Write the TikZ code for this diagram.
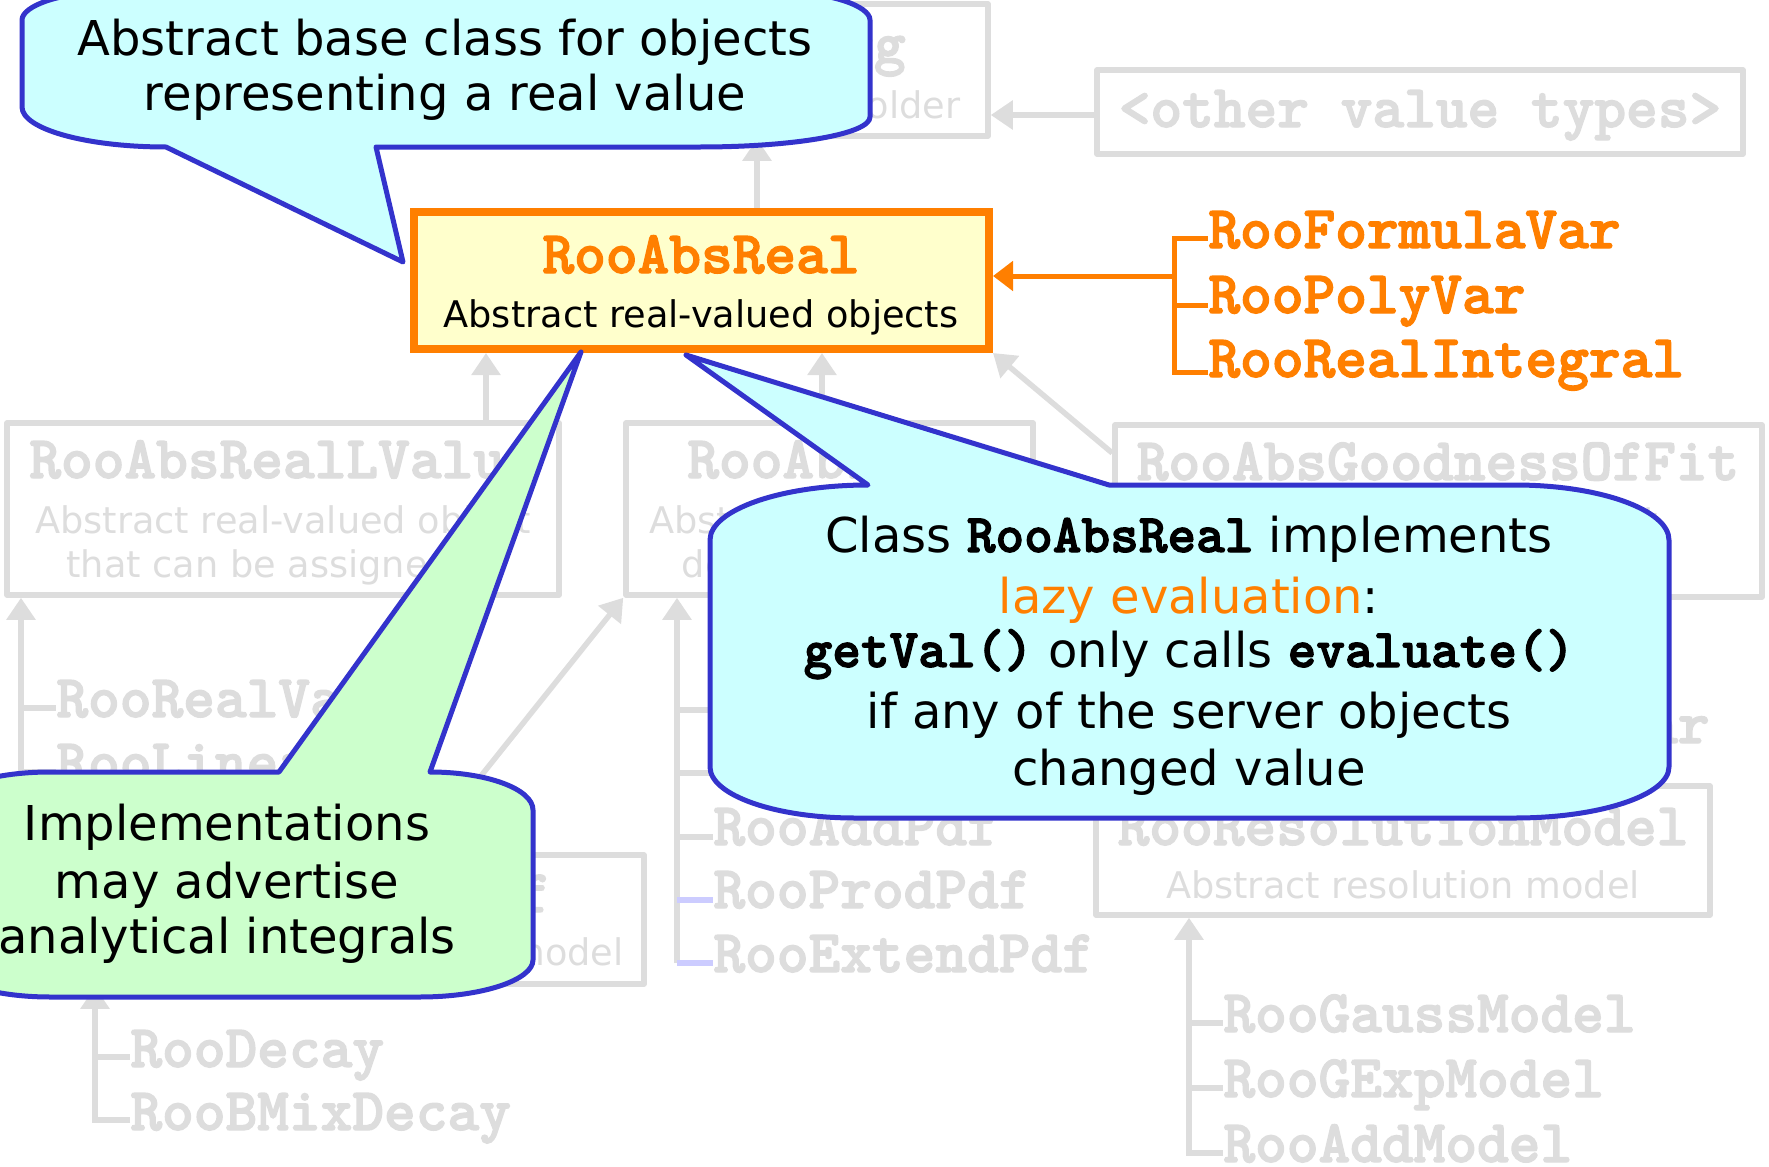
\documentclass[tikz,border=0pt]{standalone}
\usepackage{fontspec}
\setmainfont{DejaVu Sans}
\newfontfamily\codefont{lmmonolt10-bold.otf}[FakeBold=2.2]
\usetikzlibrary{arrows.meta,fit}

\definecolor{rooorange}{HTML}{FF7F00}
\definecolor{boxyellow}{HTML}{FFFFCC}
\definecolor{notecyan}{HTML}{CCFFFF}
\definecolor{notegreen}{HTML}{CCFFCC}
\definecolor{noteblue}{HTML}{3333CC}
\definecolor{fade}{HTML}{DDDDDD}
\definecolor{fadeblue}{HTML}{CCCCFF}

% bold typewriter for class and method names inside the notes
\newcommand{\cfn}[1]{{\codefont\fontsize{27.3}{30}\selectfont #1}}

\tikzset{
  fadebox/.style={draw=fade, line width=2.75pt, inner sep=0pt, line join=round},
  fadeline/.style={draw=fade, line width=2.75pt},
  inh/.style={fadeline, -{Triangle[length=11pt,width=14pt]}},
  orline/.style={draw=rooorange, line width=2.5pt},
  classname/.style={font=\codefont\fontsize{30.2}{34}\selectfont, inner sep=0pt},
  fadename/.style={classname, text=fade},
  descr/.style={font=\fontsize{18.35}{22}\selectfont, inner sep=0pt},
  fadedescr/.style={descr, text=fade},
  note/.style={draw=noteblue, line width=2.5pt, line join=round},
  notetext/.style={font=\fontsize{24}{28}\selectfont, inner sep=0pt, anchor=base},
}

\begin{document}
\begin{tikzpicture}[x=0.5pt, y=-0.5pt]
\useasboundingbox (0,0) rectangle (1769,1167);

% ---------- faded class hierarchy ----------
\node[fadebox, fit={(538,4) (988,136)}] (absarg) {};
\node[fadename, anchor=base] (absargT) at (763,63) {RooAbsArg};
\node[fadedescr, anchor=base] (absargD) at (763,118) {Abstract value holder};

\node[fadebox, fit={(1097,70) (1743,154)}] (other) {};
\node[fadename, anchor=base] (otherT) at (1420,127) {<other value types>};
\draw[inh] (other.west |- 0,115) -- (absarg.east |- 0,115);

\node[fadebox, fit={(7,423) (559,595)}] (lvalue) {};
\node[fadename, anchor=base] (lvalueT) at (283,478) {RooAbsRealLValue};
\node[fadedescr, anchor=base] (lvalueD1) at (283,533) {Abstract real-valued object};
\node[fadedescr, anchor=base] (lvalueD2) at (283,577) {that can be assigned to};

\node[fadebox, fit={(626,423) (1033,595)}] (abspdf) {};
\node[fadename, anchor=base] (abspdfT) at (830,478) {RooAbsPdf};
\node[fadedescr, anchor=base] (abspdfD1) at (830,533) {Abstract probability};
\node[fadedescr, anchor=base] (abspdfD2) at (830,577) {density function};

\node[fadebox, fit={(1115,425) (1762,597)}] (gof) {};
\node[fadename, anchor=base] (gofT) at (1438,480) {RooAbsGoodnessOfFit};
\node[fadedescr, anchor=base] (gofD1) at (1438,533) {Abstract goodness-of-fit};
\node[fadedescr, anchor=base] (gofD2) at (1438,577) {test statistic};
\node[fadename, anchor=base east] (chi2) at (1710,743) {RooChi2Var};

\node[fadebox, fit={(-40,855) (644,984)}] (convpdf) {};
\node[fadename, anchor=base east] (convpdfT) at (551,912) {RooConvolutedPdf};
\node[fadedescr, anchor=base east] (convpdfD) at (624,965) {Abstract convoluted physics model};

\node[fadebox, fit={(1096,786) (1710,915)}] (resmodel) {};
\node[fadename, anchor=base] (resmodelT) at (1403,845) {RooResolutionModel};
\node[fadedescr, anchor=base] (resmodelD) at (1403,898) {Abstract resolution model};

% children of RooAbsRealLValue
\node[fadename, anchor=base west] (realvar) at (56,717) {RooRealVar};
\node[fadename, anchor=base west] (linvar) at (56,781) {RooLinearVar};
\draw[inh] (linvar.west |- 0,772) -| (lvalue.south -| 21,0);
\draw[fadeline] (21,708) -- (realvar.west |- 0,708);

% children of RooAbsPdf
\node[fadename, anchor=base west] (addpdf) at (713,845) {RooAddPdf};
\node[fadename, anchor=base west] (prodpdf) at (713,908) {RooProdPdf};
\node[fadename, anchor=base west] (extpdf) at (713,972) {RooExtendPdf};
\coordinate (gaussTick) at (713,710);
\coordinate (argusTick) at (713,773);
\draw[inh] (677,963) -- (abspdf.south -| 677,0);
\draw[fadeline] (677,710) -- (gaussTick);
\draw[fadeline] (677,773) -- (argusTick);
\draw[fadeline] (677,837) -- (addpdf.west |- 0,837);
\draw[draw=fadeblue, line width=2.75pt] (677,900) -- (prodpdf.west |- 0,900);
\draw[draw=fadeblue, line width=2.75pt] (677,963) -- (extpdf.west |- 0,963);

% children of RooConvolutedPdf
\node[fadename, anchor=base west] (decay) at (130,1067) {RooDecay};
\node[fadename, anchor=base west] (bmix) at (130,1130) {RooBMixDecay};
\draw[inh] (bmix.west |- 0,1120) -| (convpdf.south -| 95,0);
\draw[fadeline] (95,1057) -- (decay.west |- 0,1057);

% children of RooResolutionModel
\node[fadename, anchor=base west] (gaussmodel) at (1223,1032) {RooGaussModel};
\node[fadename, anchor=base west] (gexpmodel) at (1223,1097) {RooGExpModel};
\node[fadename, anchor=base west] (addmodel) at (1223,1162) {RooAddModel};
\draw[inh] (addmodel.west |- 0,1153) -| (resmodel.south -| 1189,0);
\draw[fadeline] (1189,1023) -- (gaussmodel.west |- 0,1023);
\draw[fadeline] (1189,1088) -- (gexpmodel.west |- 0,1088);

% ---------- highlighted class ----------
\node[fit={(414,212) (989,349)}, draw=rooorange, line width=4pt, fill=boxyellow, inner sep=0pt] (absreal) {};
\node[classname, text=rooorange, anchor=base] (absrealT) at (701,273) {RooAbsReal};
\node[descr, anchor=base] (absrealD) at (701,327) {Abstract real-valued objects};

\draw[inh] (absreal.north -| 757,0) -- (absarg.south -| 757,0);
\draw[inh] (lvalue.north -| 486,0) -- (absreal.south -| 486,0);
\draw[inh] (abspdf.north -| 822,0) -- (absreal.south -| 822,0);
\draw[inh] (gof.west |- 0,453) -- (absreal.south east);
\draw[inh] (convpdf.north -| 420,0) -- (abspdf.south west);

% direct implementations
\node[classname, text=rooorange, anchor=base west] (fvar) at (1208,248) {RooFormulaVar};
\node[classname, text=rooorange, anchor=base west] (pvar) at (1208,313) {RooPolyVar};
\node[classname, text=rooorange, anchor=base west] (rint) at (1208,377) {RooRealIntegral};
\draw[orline] (rint.west |- 0,372) -- (1174,372) -- (1174,238) -- (fvar.west |- 0,238);
\draw[orline] (1174,305) -- (pvar.west |- 0,305);
\draw[orline, -{Triangle[length=10pt,width=14.5pt]}] (1174,276) -- (absreal.east |- 0,276);

% ---------- notes ----------
\draw[note, fill=notecyan]
  (166,147) -- (403,262) -- (376,147) -- (700,147)
  .. controls (794,147) and (870,134) .. (870,117) -- (870,20)
  .. controls (870,6) and (830,-8) .. (780,-8) -- (110,-8)
  .. controls (60,-8) and (22,6) .. (22,20) -- (22,107)
  .. controls (22,129) and (86,147) .. (166,147) -- cycle;
\node[notetext] (noteA1) at (445,55) {Abstract base class for objects};
\node[notetext] (noteA2) at (445,110) {representing a real value};

\draw[note, fill=notecyan]
  (868,485) -- (686,355) -- (1109,485) -- (1515,485)
  .. controls (1600,485) and (1669,510) .. (1669,540) -- (1669,767)
  .. controls (1669,795) and (1600,818) .. (1515,818) -- (855,818)
  .. controls (775,818) and (710,795) .. (710,767) -- (710,540)
  .. controls (710,510) and (781,485) .. (868,485) -- cycle;
\node[notetext] (noteB1) at (1189,552) {Class \cfn{RooAbsReal} implements};
\node[notetext] (noteB2) at (1189,613) {\textcolor{rooorange}{lazy evaluation}:};
\node[notetext] (noteB3) at (1189,667) {\cfn{getVal()} only calls \cfn{evaluate()}};
\node[notetext] (noteB4) at (1189,728) {if any of the server objects};
\node[notetext] (noteB5) at (1189,785) {changed value};

\draw[note, fill=notegreen]
  (279,772) -- (581,352) -- (430,772)
  .. controls (487,772) and (533,789) .. (533,810) -- (533,960)
  .. controls (533,980) and (482,997) .. (420,997) -- (50,997)
  .. controls (-11,997) and (-60,980) .. (-60,960) -- (-60,810)
  .. controls (-60,789) and (-11,772) .. (50,772) -- cycle;
\node[notetext] (noteC1) at (227,840) {Implementations};
\node[notetext] (noteC2) at (227,898) {may advertise};
\node[notetext] (noteC3) at (227,953) {analytical integrals};
\end{tikzpicture}
\end{document}
